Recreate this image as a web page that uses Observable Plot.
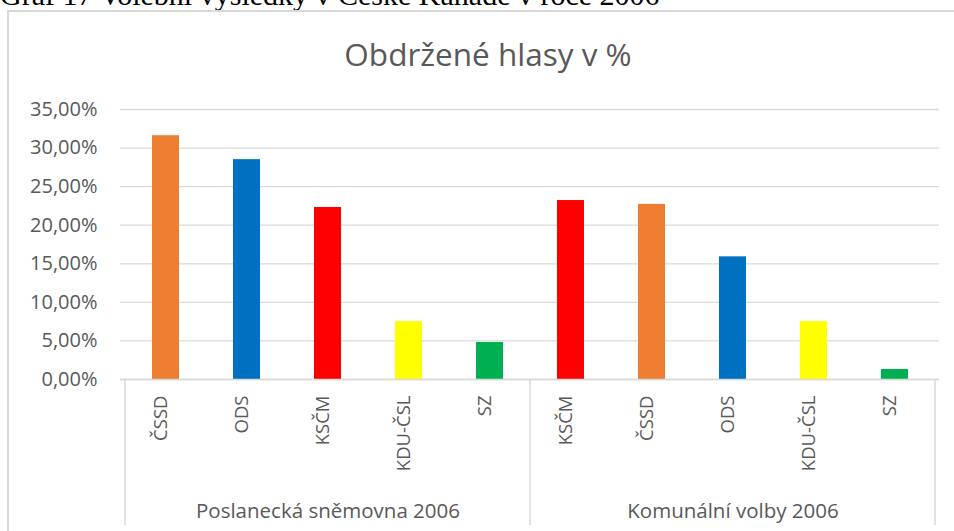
<!DOCTYPE html>
<html>
<head>
<meta charset="utf-8">
<script src="https://cdn.jsdelivr.net/npm/d3@7"></script>
<script src="https://cdn.jsdelivr.net/npm/@observablehq/plot@0.6"></script>
<style>
  html { overflow: hidden; scrollbar-width: none; }
  ::-webkit-scrollbar { display: none; width: 0; height: 0; }
  body { margin: 0; padding: 0; background: #fff; }
  #wrap { position: relative; width: 954px; height: 531px; overflow: hidden; }
  #caption { position: absolute; left: 0px; top: -20px; font-family: "Liberation Serif", "Times New Roman", serif; font-size: 30px; line-height: 30px; color: #000; white-space: nowrap; }
  #frame { position: absolute; left: 7px; top: 10px; width: 1100px; height: 700px; border: 2px solid #d9d9d9; box-sizing: border-box; }
  #title { position: absolute; left: 188px; width: 600px; top: 38px; text-align: center; font-family: "Open Sans", sans-serif; font-size: 31.5px; line-height: 32px; color: #595959; white-space: nowrap; }
  #chart { position: absolute; left: 0; top: 0; }
</style>
</head>
<body>
<div id="wrap">
<div id="caption">Graf 17 Volební výsledky v České Kanadě v roce 2006</div>
<div id="frame"></div>
<div id="title">Obdržené hlasy v %</div>
<div id="chart"></div>
</div>
<script>
// --- data ---
const groupNames = ["Poslanecká sněmovna 2006", "Komunální volby 2006"];
const partiesPS = ["ČSSD", "ODS", "KSČM", "KDU-ČSL", "SZ"];
const valuesPS = [31.6, 28.5, 22.3, 7.5, 4.8];
const partiesKV = ["KSČM", "ČSSD", "ODS", "KDU-ČSL", "SZ"];
const valuesKV = [23.2, 22.7, 15.9, 7.5, 1.3];
const partyNames = ["ČSSD", "ODS", "KSČM", "KDU-ČSL", "SZ"];
const partyColors = ["#ED7D31", "#0070C0", "#FF0000", "#FFFF00", "#00B050"];
const yTicks = [0, 5, 10, 15, 20, 25, 30, 35];

// --- table ---
const data = [
  ...partiesPS.map((p, i) => ({group: groupNames[0], party: p, value: valuesPS[i], key: groupNames[0] + "|" + p})),
  ...partiesKV.map((p, i) => ({group: groupNames[1], party: p, value: valuesKV[i], key: groupNames[1] + "|" + p}))
];
const groupInfo = groupNames.map(g => {
  const rows = data.filter(d => d.group === g);
  return {group: g, first: rows[0].key, mid: rows[Math.floor(rows.length / 2)].key, last: rows[rows.length - 1].key};
});

const gridColor = "#d9d9d9";
const textColor = "#595959";
const padInner = 0.667;

function separators(index, scales, values, dims) {
  const x = scales.x;
  const step = x.step();
  const bw = x.bandwidth();
  const y0 = scales.y(0);
  const y1 = dims.height - 6;
  const xs = [];
  groupInfo.forEach((g, i) => {
    xs.push(x(g.first) - step * padInner / 2);
    if (i === groupInfo.length - 1) xs.push(x(g.last) + bw + step * padInner / 2);
  });
  const g = d3.create("svg:g");
  g.selectAll("line").data(xs).join("line")
    .attr("x1", d => d).attr("x2", d => d)
    .attr("y1", y0).attr("y2", y1)
    .attr("stroke", gridColor).attr("stroke-width", 1.5);
  return g.node();
}

const chart = Plot.plot({
  width: 954,
  height: 531,
  marginLeft: 120,
  marginRight: 15,
  marginTop: 109,
  marginBottom: 152,
  style: {fontFamily: "Open Sans, sans-serif", fontSize: "20px", color: textColor, background: "transparent"},
  x: {domain: data.map(d => d.key), paddingInner: padInner, paddingOuter: padInner / 2, axis: null},
  y: {domain: [0, 35], ticks: yTicks, tickSize: 0, tickPadding: 23, label: null,
      tickFormat: d => d.toFixed(2).replace(".", ",") + "%"},
  color: {domain: partyNames, range: partyColors},
  marks: [
    Plot.gridY(yTicks, {stroke: gridColor, strokeOpacity: 1, strokeWidth: 1.3}),
    Plot.barY(data, {x: "key", y: "value", fill: "party"}),
    Plot.ruleY([0], {stroke: gridColor, strokeWidth: 1.5}),
    separators,
    Plot.text(data, {x: "key", text: "party", rotate: -90, textAnchor: "end", frameAnchor: "bottom",
                     dy: 16, dx: 1, fontSize: 18.5, fill: textColor}),
    Plot.text(groupInfo, {x: "mid", text: "group", frameAnchor: "bottom", dy: 138, fontSize: 20.5, fill: textColor})
  ]
});
document.getElementById("chart").appendChild(chart);
</script>
</body>
</html>
